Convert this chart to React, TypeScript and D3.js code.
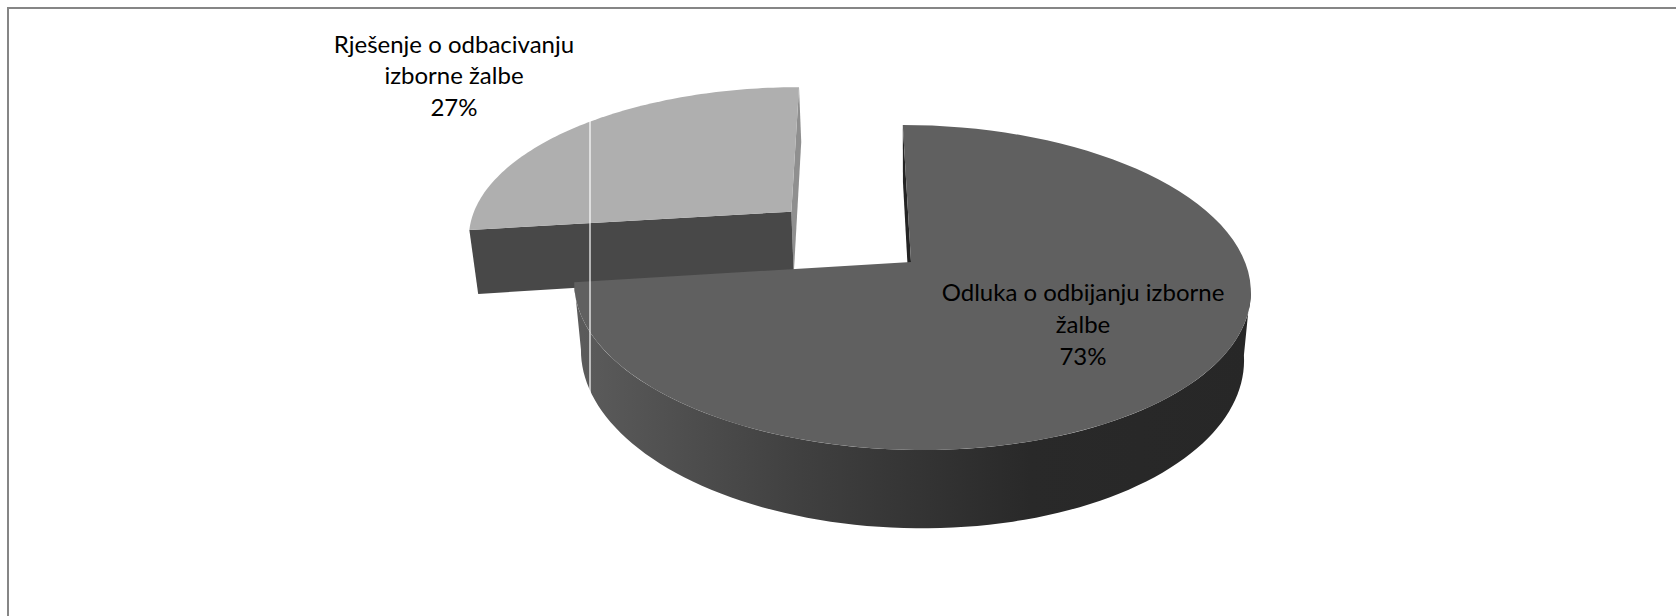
import React from "react";
import * as d3 from "d3";

const width = 1676;
const height = 616;

const categories = ["Odluka o odbijanju izborne žalbe", "Rješenje o odbacivanju izborne žalbe"];
const values = [73, 27];
const labelLines = [
  ["Odluka o odbijanju izborne", "žalbe", "73%"],
  ["Rješenje o odbacivanju", "izborne žalbe", "27%"],
];

// view of the tilted disc
const apex = { x: 911, y: 262 };
const view = { a: 334, b: 158.5, k: 0.157, shear: 0.06, depth: 66, shrink: 0.98 };
const explode = [0, 0.49];

// u, v on the disc (v towards viewer), z 0 = top face, 1 = bottom face
function project(u: number, v: number, z: number): [number, number] {
  const w = 1 - view.k * v;
  const yTop = (view.b * v) / w;
  const xTop = (view.a * u) / w + view.shear * yTop;
  return [apex.x + xTop * (1 - (1 - view.shrink) * z), apex.y + yTop + (z * view.depth) / w];
}

const pieData = d3.pie<number>().sort(null).value((d) => d)(values);

const line = d3.line();

function arcPoints(a0: number, a1: number, ox: number, oy: number, z: number) {
  const n = 90;
  return d3.range(n + 1).map((i) => {
    const t = a0 + ((a1 - a0) * i) / n;
    return project(ox + Math.sin(t), oy - Math.cos(t), z);
  });
}

function sliceOffset(i: number) {
  const mid = (pieData[i].startAngle + pieData[i].endAngle) / 2;
  return [Math.sin(mid) * explode[i], -Math.cos(mid) * explode[i] - 0.01];
}

export default function App() {
  const big = pieData[0];
  const small = pieData[1];
  const [sx, sy] = sliceOffset(1);

  const bigTop = [project(0, 0, 0), ...arcPoints(big.startAngle, big.endAngle, 0, 0, 0)];
  const smallTop = [project(sx, sy, 0), ...arcPoints(small.startAngle, small.endAngle, sx, sy, 0)];

  // outer wall of the big slice, starts where the rim turns towards the viewer
  const frontStart = (Math.PI / 180) * 99;
  const wall = [
    ...arcPoints(frontStart, big.endAngle, 0, 0, 0),
    ...arcPoints(frontStart, big.endAngle, 0, 0, 1).reverse(),
  ];

  const bigCut = [
    project(0, 0, 0),
    project(0, -1, 0),
    project(0, -1, 1),
    project(0, 0, 1),
  ];

  const uE = Math.sin(small.startAngle);
  const vE = -Math.cos(small.startAngle);
  const smallFront = [
    project(sx, sy, 0),
    project(sx + uE, sy + vE, 0),
    project(sx + uE, sy + vE, 1),
    project(sx, sy, 1),
  ];
  const smallCut = [
    project(sx, sy, 0),
    project(sx, sy - 1, 0),
    project(sx, sy - 1, 1),
    project(sx, sy, 1),
  ];

  const font = "Lato, 'Open Sans', sans-serif";

  return (
    <svg
      width={width}
      height={height}
      style={{ position: "absolute", left: 0, top: 0 }}
      viewBox={`0 0 ${width} ${height}`}
    >
      <defs>
        <linearGradient id="wall" gradientUnits="userSpaceOnUse" x1={574} x2={1250} y1={0} y2={0}>
          <stop offset="0" stopColor="#5c5c5c" />
          <stop offset="0.19" stopColor="#4c4c4c" />
          <stop offset="0.335" stopColor="#404040" />
          <stop offset="0.48" stopColor="#363636" />
          <stop offset="0.675" stopColor="#292929" />
          <stop offset="1" stopColor="#272727" />
        </linearGradient>
      </defs>
      <rect width={width} height={height} fill="#fff" />
      <path d="M8 616V8H1676" fill="none" stroke="#868686" strokeWidth={2} />

      <path d={line(smallCut) + "Z"} fill="#8f8f8f" />
      <path d={line(smallFront) + "Z"} fill="#484848" />
      <path d={line(smallTop) + "Z"} fill="#afafaf" />

      <path d={line(bigCut) + "Z"} fill="#242424" />
      <path d={line(wall) + "Z"} fill="url(#wall)" />
      <path d={line(bigTop) + "Z"} fill="#606060" />

      <line x1={590} x2={590} y1={120} y2={395} stroke="#fff" strokeWidth={1.2} />

      <g fontFamily={font} fontSize={24} fill="#000" textAnchor="middle">
        <text data-name={categories[0]}>
          {labelLines[0].map((l, i) => (
            <tspan key={i} x={1083} y={301 + i * 32}>
              {l}
            </tspan>
          ))}
        </text>
        <text data-name={categories[1]}>
          {labelLines[1].map((l, i) => (
            <tspan key={i} x={454} y={52.5 + i * 31.5}>
              {l}
            </tspan>
          ))}
        </text>
      </g>
    </svg>
  );
}
